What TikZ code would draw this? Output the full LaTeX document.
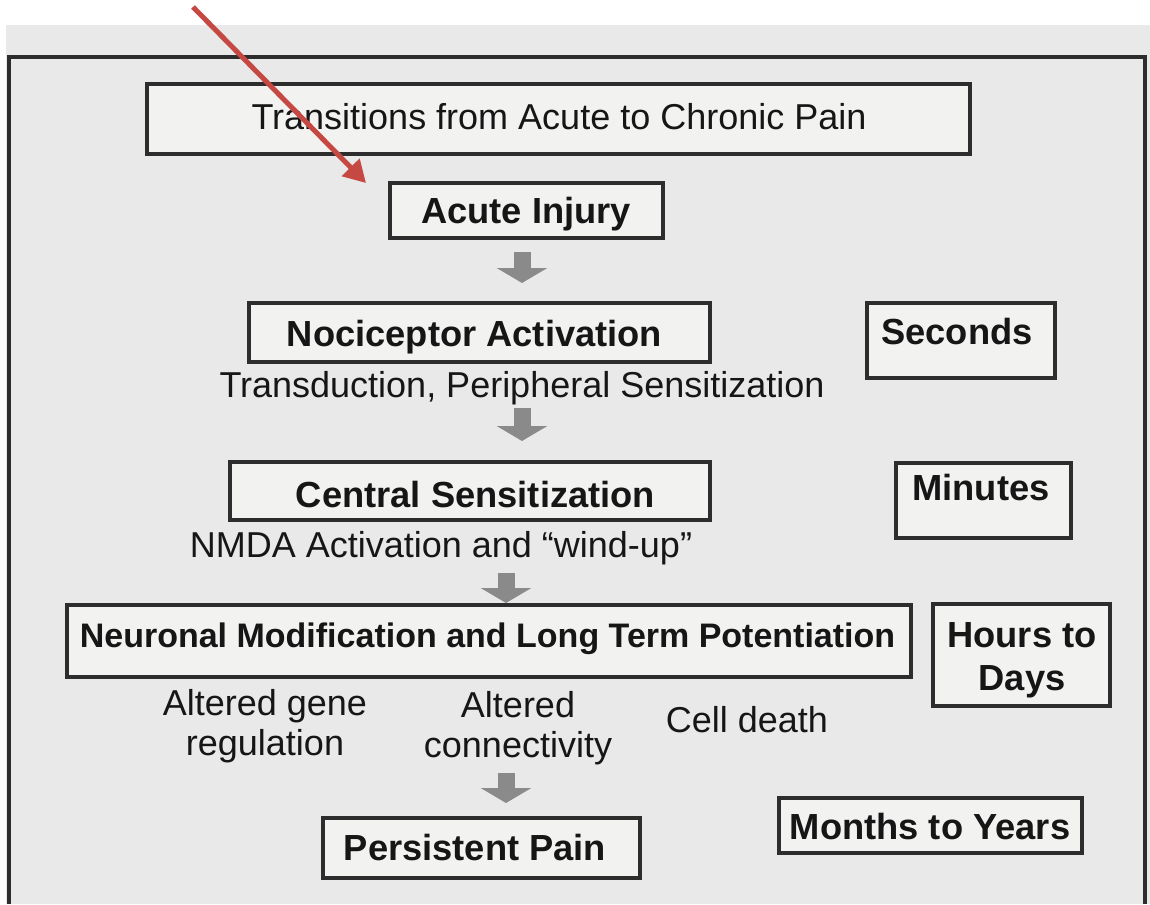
\documentclass[tikz,border=0pt]{standalone}
\usepackage{fontspec}
\setmainfont{Liberation Sans}
\usetikzlibrary{arrows.meta}
\definecolor{paper}{RGB}{232,233,232}
\definecolor{boxfill}{RGB}{242,242,241}
\definecolor{ink}{RGB}{22,22,22}
\definecolor{frameline}{RGB}{45,45,45}
\definecolor{flowgrey}{RGB}{138,138,138}
\definecolor{pointer}{RGB}{198,72,66}
\tikzset{
  stagebox/.style={draw=frameline, line width=3.2pt, fill=boxfill, inner sep=0pt},
  plain/.style={font=\fontsize{36}{40}\selectfont, text=ink, inner sep=0pt, anchor=base},
  heavy/.style={font=\fontsize{36.3}{43}\selectfont\bfseries, text=ink, inner sep=0pt, anchor=base},
  flow/.style={draw=flowgrey, line width=17pt, -{Triangle[length=15pt,width=50pt]}},
  redpointer/.style={draw=pointer, line width=5pt, -{Triangle[length=22pt,width=24pt]}}
}
\begin{document}
\begin{tikzpicture}[x=1pt,y=-1pt]
\useasboundingbox (0,0) rectangle (1150,904);
% page background and outer frame
\fill[white] (0,0) rectangle (1150,904);
\fill[paper] (6,25) rectangle (1150,904);
\draw[frameline, line width=3.2pt] (9,904) -- (9,57) -- (1145,57) -- (1145,904);

% boxes
\node[stagebox, minimum width=823pt, minimum height=70pt] (title)   at (558.5,119)  {};
\node[stagebox, minimum width=273pt, minimum height=55pt] (acute)   at (526.5,210.5) {};
\node[stagebox, minimum width=461pt, minimum height=59pt] (noci)    at (479.5,332.5) {};
\node[stagebox, minimum width=480pt, minimum height=58pt] (central) at (470,491)    {};
\node[stagebox, minimum width=844pt, minimum height=72pt] (neuro)   at (489,641)    {};
\node[stagebox, minimum width=317pt, minimum height=60pt] (persist) at (481.5,848)  {};
\node[stagebox, minimum width=188pt, minimum height=75pt] (seconds) at (961,340.5)  {};
\node[stagebox, minimum width=175pt, minimum height=75pt] (minutes) at (983.5,500.5) {};
\node[stagebox, minimum width=177pt, minimum height=102pt] (hours)  at (1021.5,655) {};
\node[stagebox, minimum width=303pt, minimum height=55pt] (months)  at (930.5,825.5) {};

% texts (multi-line nodes sit on the baseline of their last line)
\node[plain] (titletxt)   at (559,130)   {Transitions from Acute to Chronic Pain};
\node[heavy] (acutetxt)   at (526,223)   {Acute Injury};
\node[heavy] (nocitxt)    at (474.5,346) {Nociceptor Activation};
\node[plain] (transtxt)   at (522,397)   {Transduction, Peripheral Sensitization};
\node[heavy] (centraltxt) at (475.5,507) {Central Sensitization};
\node[plain] (nmdatxt)    at (441,557)   {NMDA Activation and “wind-up”};
\node[heavy] (sectxt)     at (957,344)   {Seconds};
\node[heavy] (mintxt)     at (981,500)   {Minutes};
\node[heavy, font=\fontsize{34}{40}\selectfont\bfseries] (neurotxt) at (487.5,647)
  {Neuronal Modification and Long Term Potentiation};
\node[heavy, align=center] (hourstxt) at (1022,690) {Hours to\\Days};
\node[plain, align=center] (genetxt) at (265,755) {Altered gene\\regulation};
\node[plain, align=center] (conntxt) at (518,757) {Altered\\connectivity};
\node[plain] (deathtxt)   at (747,732)   {Cell death};
\node[heavy] (persisttxt) at (475,860)   {Persistent Pain};
\node[heavy] (monthstxt)  at (930,839)   {Months to Years};

% grey flow arrows between the stages
\draw[flow] (522,252) -- (522,283);
\draw[flow] (522,408) -- (522,441);
\draw[flow] (506,573) -- (506,603);
\draw[flow] (506,773) -- (506,803);

% red pointer onto the first stage
\coordinate (pstart) at (193,7);
\coordinate (pend) at (366,183);
\draw[redpointer] (pstart) -- (pend);
\end{tikzpicture}
\end{document}
